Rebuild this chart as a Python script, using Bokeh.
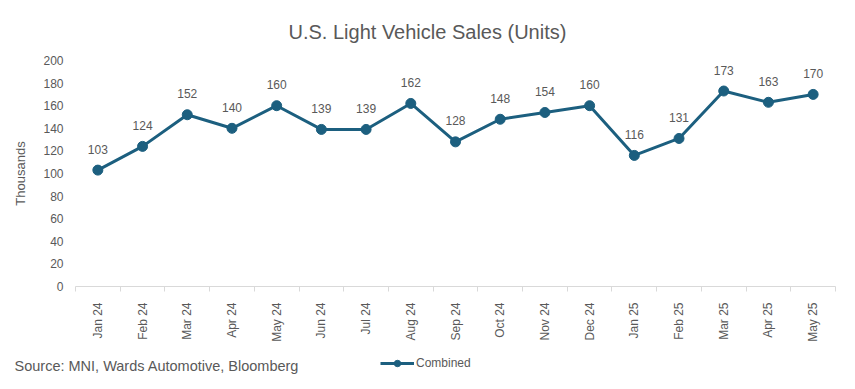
import math
from bokeh.plotting import figure
from bokeh.layouts import column
from bokeh.core.properties import value
from bokeh.models import ColumnDataSource, Range1d, FixedTicker, Label, LabelSet, Legend, LegendItem
from bokeh.embed import file_html
from bokeh.resources import INLINE

months = ["Jan 24", "Feb 24", "Mar 24", "Apr 24", "May 24", "Jun 24", "Jul 24", "Aug 24",
          "Sep 24", "Oct 24", "Nov 24", "Dec 24", "Jan 25", "Feb 25", "Mar 25", "Apr 25", "May 25"]
combined = [103, 124, 152, 140, 160, 139, 139, 162, 128, 148, 154, 160, 116, 131, 173, 163, 170]
y_ticks = [0, 20, 40, 60, 80, 100, 120, 140, 160, 180, 200]

FONT = "Liberation Sans"
GREY = "#595959"
COLOR = "#1c5f7f"

idx = list(range(len(months)))
src = ColumnDataSource(dict(x=idx, y=combined, lab=[str(v) for v in combined]))

p = figure(width=855, height=349, output_backend="svg", toolbar_location=None,
           x_range=Range1d(-0.5, len(months) - 0.5), y_range=Range1d(0, 200),
           min_border_left=75, min_border_right=20, min_border_top=60, min_border_bottom=63)
p.outline_line_color = None
p.border_fill_color = "white"
p.xgrid.grid_line_color = None
p.ygrid.grid_line_color = None

p.title.text = "U.S. Light Vehicle Sales (Units)"
p.title.align = "left"
p.title.offset = 213
p.title.standoff = 35
p.title.text_font = FONT
p.title.text_font_size = "20px"
p.title.text_font_style = "normal"
p.title.text_color = GREY

r = p.line("x", "y", source=src, line_color=COLOR, line_width=3)
c = p.scatter("x", "y", source=src, size=10, fill_color=COLOR, line_color=COLOR)

labels = LabelSet(x="x", y="y", text="lab", source=src, y_offset=21, text_align="center",
                  text_baseline="middle", text_font_size=value("12px"), text_color=GREY,
                  text_font=value(FONT))
p.add_layout(labels)

# x axis
p.xaxis.ticker = FixedTicker(ticks=idx, minor_ticks=[i - 0.5 for i in range(len(months) + 1)])
p.xaxis.major_label_overrides = {i: m for i, m in enumerate(months)}
p.xaxis.major_label_orientation = math.pi / 2
p.xaxis.major_tick_line_color = None
p.xaxis.major_tick_out = 0
p.xaxis.major_tick_in = 0
p.xaxis.minor_tick_line_color = "#d9d9d9"
p.xaxis.minor_tick_out = 5
p.xaxis.minor_tick_in = 0
p.xaxis.axis_line_color = "#d9d9d9"
p.xaxis.major_label_text_font = FONT
p.xaxis.major_label_text_font_size = "12px"
p.xaxis.major_label_text_color = GREY
p.xaxis.major_label_standoff = 11

# y axis
p.yaxis.ticker = FixedTicker(ticks=y_ticks)
p.yaxis.axis_line_color = None
p.yaxis.major_tick_line_color = None
p.yaxis.major_tick_out = 0
p.yaxis.major_tick_in = 0
p.yaxis.minor_tick_line_color = None
p.yaxis.major_label_text_font = FONT
p.yaxis.major_label_text_font_size = "12px"
p.yaxis.major_label_text_color = GREY
p.yaxis.major_label_standoff = 12
p.yaxis.axis_label = "Thousands"
p.yaxis.axis_label_text_font = FONT
p.yaxis.axis_label_text_font_size = "13px"
p.yaxis.axis_label_text_font_style = "normal"
p.yaxis.axis_label_text_color = GREY
p.yaxis.axis_label_standoff = 12

# footer figure: source note and legend
f = figure(width=855, height=40, output_backend="svg", toolbar_location=None,
           x_axis_location=None, y_axis_location=None,
           x_range=Range1d(-0.5, len(months) - 0.5), y_range=Range1d(0, 200),
           min_border_left=0, min_border_right=0, min_border_top=0, min_border_bottom=0)
f.grid.grid_line_color = None
f.outline_line_color = None
fr = f.line("x", "y", source=src, line_color=COLOR, line_width=3, visible=False)
fc = f.scatter("x", "y", source=src, size=10, fill_color=COLOR, line_color=COLOR, visible=False)

# keep the footer's frame spanning its whole canvas (not aligned with the chart frame)
try:
    f.frame_align = False
    p.frame_align = False
    dx = 0
except Exception:
    dx = 75

f.add_layout(Label(x=14 - dx, y=24, x_units="screen", y_units="screen",
                   text="Source: MNI, Wards Automotive, Bloomberg",
                   text_align="left", text_baseline="middle", text_font=FONT, text_font_size="14.5px",
                   text_color=GREY))

legend = Legend(items=[LegendItem(label="Combined", renderers=[fr, fc])], location=(380 - dx, 18),
                orientation="horizontal", border_line_color=None, background_fill_alpha=0,
                label_text_font=FONT, label_text_font_size="12px", label_text_color=GREY,
                glyph_width=34, glyph_height=16, label_standoff=2, padding=0, margin=0,
                label_height=16)
f.add_layout(legend)

layout = column(p, f, spacing=0)
open("out.html", "w").write(file_html(layout, INLINE))
